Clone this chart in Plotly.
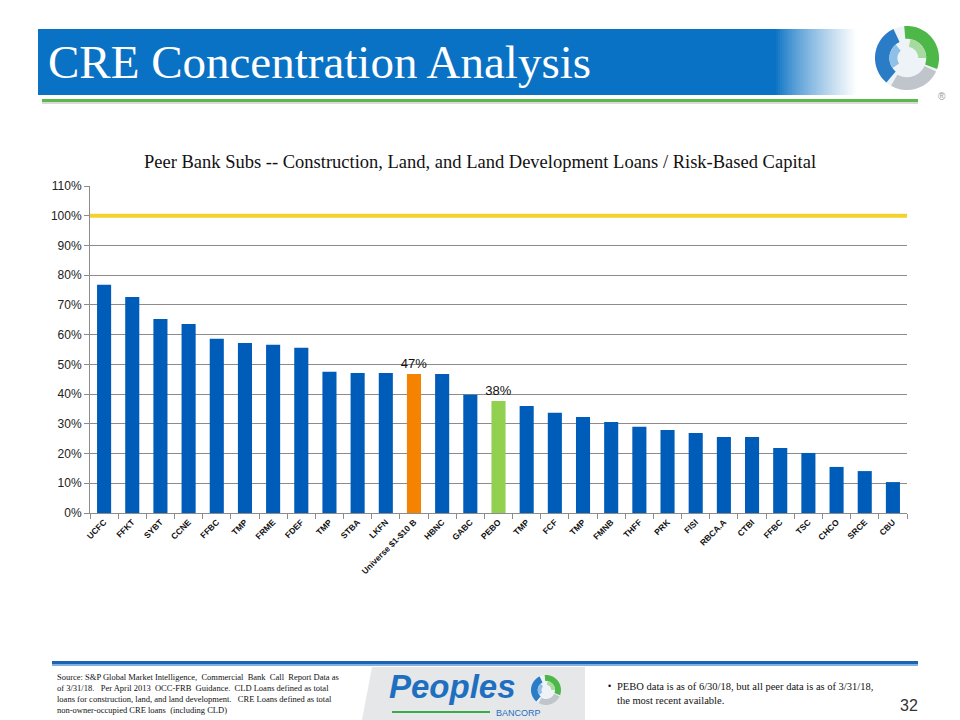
import math
import plotly.graph_objects as go

# ---------------- data ----------------
categories = ["UCFC", "FFKT", "SYBT", "CCNE", "FFBC", "TMP", "FRME", "FDEF", "TMP", "STBA",
              "LKFN", "Universe $1-$10 B", "HBNC", "GABC", "PEBO", "TMP", "FCF", "TMP", "FMNB",
              "THFF", "PRK", "FISI", "RBCA.A", "CTBI", "FFBC", "TSC", "CHCO", "SRCE", "CBU"]
values = [0.768, 0.727, 0.653, 0.636, 0.586, 0.572, 0.566, 0.556, 0.475, 0.471,
          0.471, 0.468, 0.468, 0.398, 0.377, 0.360, 0.337, 0.323, 0.306,
          0.290, 0.279, 0.269, 0.256, 0.256, 0.219, 0.202, 0.155, 0.141, 0.104]
highlight_universe = "Universe $1-$10 B"
highlight_pebo = "PEBO"
limit_value = 1.0
y_ticks = [0, 0.1, 0.2, 0.3, 0.4, 0.5, 0.6, 0.7, 0.8, 0.9, 1.0, 1.1]

BLUE = "#005CB9"
ORANGE = "#F58200"
GREEN = "#92D050"
YELLOW = "#F4D22E"

W, H = 960, 720
L, R, T, B = 90, 53, 186, 207
PW, PH = W - L - R, H - T - B

def px(x):
    return (x - L) / PW

def py(y):
    return (H - B - y) / PH

xs = list(range(len(categories)))
colors = [ORANGE if c == highlight_universe else GREEN if c == highlight_pebo else BLUE for c in categories]
texts = [f"{v*100:.0f}%" if c in (highlight_universe, highlight_pebo) else "" for c, v in zip(categories, values)]

fig = go.Figure()
fig.add_trace(go.Bar(
    x=xs, y=values, marker=dict(color=colors, line=dict(width=0)),
    text=texts, textposition="outside", cliponaxis=False, constraintext="none",
    textfont=dict(family="Liberation Sans Narrow, Arial Narrow, Arial", size=13, color="#111"),
    width=0.5, hoverinfo="skip",
))

shapes = []
# 100% limit line
shapes.append(dict(type="line", xref="x", yref="y", x0=-0.5, x1=len(categories) - 0.5,
                   y0=limit_value, y1=limit_value, line=dict(color=YELLOW, width=4), layer="above"))

# ---------------- header bar ----------------
def rect(x0, y0, x1, y1, color, line=None):
    return dict(type="rect", xref="paper", yref="paper", x0=px(x0), x1=px(x1), y0=py(y1), y1=py(y0),
                fillcolor=color, line=dict(width=0) if line is None else line, layer="below")

shapes.append(rect(38, 29, 782, 95, "#0A72C4"))
# gradient fade to white
n = 40
g0, g1 = 776, 856
for i in range(n):
    t = (i + 0.5) / n
    t2 = t ** 0.8
    r = int(10 + (255 - 10) * t2)
    g = int(114 + (255 - 114) * t2)
    b = int(196 + (255 - 196) * t2)
    xa = g0 + (g1 - g0) * i / n
    xb = g0 + (g1 - g0) * (i + 1) / n + 0.6
    shapes.append(rect(xa, 29, xb, 95, f"rgb({r},{g},{b})"))
# green rule under header
shapes.append(rect(42, 99, 918, 102, "#5DB84B"))
shapes.append(rect(42, 102, 918, 104, "#D9D9D9"))

# ---------------- logo swirl ----------------
def arc_path(cx, cy, r_out, r_in, a0, a1, steps=40):
    pts = []
    for i in range(steps + 1):
        a = math.radians(a0 + (a1 - a0) * i / steps)
        pts.append((cx + r_out * math.cos(a), cy - r_out * math.sin(a)))
    for i in range(steps, -1, -1):
        a = math.radians(a0 + (a1 - a0) * i / steps)
        pts.append((cx + r_in * math.cos(a), cy - r_in * math.sin(a)))
    d = "M " + " L ".join(f"{px(x):.5f},{py(y):.5f}" for x, y in pts) + " Z"
    return d

def logo(cx, cy, r, layer="above"):
    out = []
    out.append(dict(type="circle", xref="paper", yref="paper", x0=px(cx - r), x1=px(cx + r),
                    y0=py(cy + r), y1=py(cy - r), fillcolor="#EEF3F7", line=dict(width=0), layer=layer))
    out.append(dict(type="path", xref="paper", yref="paper", path=arc_path(cx, cy, r, r * 0.6, -20, 95),
                    fillcolor="#4DB848", line=dict(width=0), layer=layer))
    out.append(dict(type="path", xref="paper", yref="paper", path=arc_path(cx, cy, r, r * 0.55, 115, 230),
                    fillcolor="#2A7CC7", line=dict(width=0), layer=layer))
    out.append(dict(type="path", xref="paper", yref="paper", path=arc_path(cx, cy, r, r * 0.6, 240, 335),
                    fillcolor="#BFC5CB", line=dict(width=0), layer=layer))
    out.append(dict(type="path", xref="paper", yref="paper", path=arc_path(cx, cy, r * 0.55, r * 0.3, 130, 215),
                    fillcolor="#8FC0E8", line=dict(width=0), layer=layer))
    out.append(dict(type="path", xref="paper", yref="paper", path=arc_path(cx, cy, r * 0.6, r * 0.35, 0, 80),
                    fillcolor="#A6DA9E", line=dict(width=0), layer=layer))
    return out

shapes += logo(907, 58, 32)

# ---------------- footer ----------------
shapes.append(rect(52, 661, 918, 664, "#1D63B3"))
shapes.append(rect(52, 664, 918, 666, "#7FB0E0"))
# Peoples logo panel
panel = [(372, 667), (585, 667), (585, 720), (362, 720)]
shapes.append(dict(type="path", xref="paper", yref="paper",
                   path="M " + " L ".join(f"{px(x):.5f},{py(y):.5f}" for x, y in panel) + " Z",
                   fillcolor="#E6E7E9", line=dict(width=0), layer="below"))
shapes.append(dict(type="line", xref="paper", yref="paper", x0=px(392), x1=px(490), y0=py(712), y1=py(712),
                   line=dict(color="#3BAA4A", width=2)))
shapes += logo(546, 690, 15)

FONT_SERIF = "Liberation Serif, Times New Roman, serif"
annotations = []
annotations.append(dict(text="CRE Concentration Analysis", xref="paper", yref="paper",
                        x=px(46), y=py(62), xanchor="left", yanchor="middle", showarrow=False,
                        font=dict(family=FONT_SERIF, size=47, color="white")))
annotations.append(dict(text="®", xref="paper", yref="paper", x=px(948), y=py(89), showarrow=False,
                        font=dict(family="Arial", size=10, color="#999")))
annotations.append(dict(text="Peoples", xref="paper", yref="paper", x=px(387), y=py(686),
                        xanchor="left", yanchor="middle", showarrow=False,
                        font=dict(family="Liberation Sans, Arial", size=33, color="#1F6FC0", weight="bold", style="italic")))
annotations.append(dict(text="BANCORP", xref="paper", yref="paper", x=px(494), y=py(713),
                        xanchor="left", yanchor="middle", showarrow=False,
                        font=dict(family="Liberation Sans, Arial", size=9, color="#1F6FC0")))
source_txt = ("Source: S&amp;P Global Market Intelligence,  Commercial  Bank  Call  Report Data as<br>"
              "of 3/31/18.   Per April 2013  OCC-FRB  Guidance.  CLD Loans defined as total<br>"
              "loans for construction, land, and land development.   CRE Loans defined as total<br>"
              "non-owner-occupied CRE loans  (including CLD)")
annotations.append(dict(text=source_txt, xref="paper", yref="paper", x=px(55), y=py(670),
                        xanchor="left", yanchor="top", align="left", showarrow=False,
                        font=dict(family=FONT_SERIF, size=8.5, color="#111")))
annotations.append(dict(text="•", xref="paper", yref="paper", x=px(606), y=py(686),
                        xanchor="left", yanchor="middle", showarrow=False,
                        font=dict(family="Arial", size=9, color="#111")))
annotations.append(dict(text="PEBO data is as of 6/30/18, but all peer data is as of 3/31/18,<br>the most recent available.",
                        xref="paper", yref="paper", x=px(615), y=py(679),
                        xanchor="left", yanchor="top", align="left", showarrow=False,
                        font=dict(family=FONT_SERIF, size=10.5, color="#111")))
annotations.append(dict(text="32", xref="paper", yref="paper", x=px(920), y=py(705),
                        xanchor="right", yanchor="middle", showarrow=False,
                        font=dict(family="Liberation Sans Narrow, Arial Narrow, Arial", size=16, color="#333")))
annotations.append(dict(text="Peer Bank Subs -- Construction, Land, and Land Development Loans / Risk-Based Capital",
                        xref="paper", yref="paper", x=px(480), y=py(162),
                        xanchor="center", yanchor="middle", showarrow=False,
                        font=dict(family=FONT_SERIF, size=18.5, color="#111")))

fig.update_layout(
    width=W, height=H, margin=dict(l=L, r=R, t=T, b=B, pad=0),
    paper_bgcolor="white", plot_bgcolor="white",
    showlegend=False, bargap=0.5,
    shapes=shapes, annotations=annotations,
    xaxis=dict(
        range=[-0.5, len(categories) - 0.5], tickmode="array", tickvals=xs, ticktext=categories,
        tickangle=-45, ticks="", showgrid=False, zeroline=False,
        showline=True, linecolor="#8C8C8C", linewidth=1,
        tickfont=dict(family="Arial", size=8.5, color="#111", weight="bold"),
        minor=dict(tickmode="linear", tick0=-0.5, dtick=1, ticks="outside", ticklen=5,
                   tickcolor="#8C8C8C", showgrid=False),
        fixedrange=True,
    ),
    yaxis=dict(
        range=[0, 1.1], tickmode="array", tickvals=y_ticks, tickformat=".0%",
        showgrid=True, gridcolor="#8C8C8C", gridwidth=1, zeroline=False,
        showline=True, linecolor="#8C8C8C", linewidth=1,
        ticks="outside", ticklen=5, tickcolor="#8C8C8C",
        tickfont=dict(family="Arial", size=12, color="#222"),
        fixedrange=True,
    ),
)

fig.write_html("out.html")
